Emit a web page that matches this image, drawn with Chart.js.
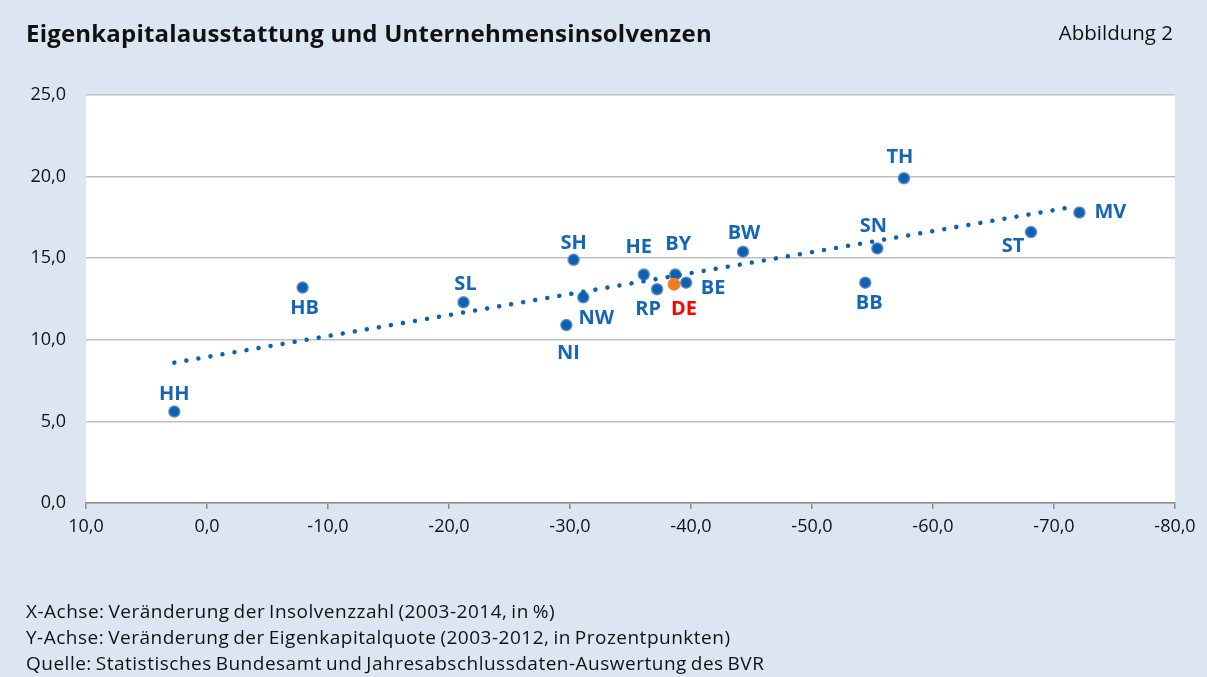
<!DOCTYPE html>
<html>
<head>
<meta charset="utf-8">
<script src="https://cdn.jsdelivr.net/npm/chart.js@4"></script>
<style>
  html, body { margin: 0; padding: 0; background: #dce6f2; }
  #wrap { position: relative; width: 1207px; height: 677px; overflow: hidden; background: #dce6f2; }
  canvas { position: absolute; left: 0; top: 0; }
  .txt { position: absolute; white-space: nowrap; color: #111; font-family: "Open Sans", sans-serif; line-height: 1; }
  #title { left: 26px; top: 21px; font-size: 24px; font-weight: bold; letter-spacing: 0.2px; }
  #fig { right: 34px; top: 22px; font-size: 20.5px; }
  .foot { left: 26px; font-size: 19px; letter-spacing: 0.5px; word-spacing: -1.5px; }
</style>
</head>
<body>
<div id="wrap">
  <canvas id="c" width="1207" height="677"></canvas>
  <div class="txt" id="title">Eigenkapitalausstattung und Unternehmensinsolvenzen</div>
  <div class="txt" id="fig">Abbildung 2</div>
  <div class="txt foot" style="top:602px">X-Achse: Veränderung der Insolvenzzahl (2003-2014, in %)</div>
  <div class="txt foot" style="top:628px">Y-Achse: Veränderung der Eigenkapitalquote (2003-2012, in Prozentpunkten)</div>
  <div class="txt foot" style="top:654px">Quelle: Statistisches Bundesamt und Jahresabschlussdaten-Auswertung des BVR</div>
</div>
<script>
// ---- data ----
const states = ['HH','HB','SL','SH','NW','NI','HE','RP','BY','BE','BW','BB','SN','TH','ST','MV'];
const insolvencyChange = [2.7, -7.9, -21.2, -30.3, -31.1, -29.7, -36.1, -37.2, -38.7, -39.6, -44.3, -54.4, -55.4, -57.6, -68.1, -72.1];
const equityChange     = [5.6, 13.2, 12.3, 14.9, 12.6, 10.9, 14.0, 13.1, 14.0, 13.5, 15.4, 13.5, 15.6, 19.9, 16.6, 17.8];
const deLabel = ['DE'];
const deInsolvency = [-38.6];
const deEquity = [13.4];
const trendX = [2.7, -71.2];
const trendY = [8.6, 18.1];
const xTicks = [10, 0, -10, -20, -30, -40, -50, -60, -70, -80];
const yTicks = [0, 5, 10, 15, 20, 25];

// ---- label placement (pixel offsets from each point) ----
const labelOffset = {
  HH:[0,-17], HB:[2,21], SL:[2,-18], SH:[0,-17], NW:[13,21], NI:[2,28],
  HE:[-5,-27], RP:[-9,20], BY:[3,-30], BE:[27,6], BW:[1,-18], BB:[4,21],
  SN:[-4,-22], TH:[-4,-21], ST:[-18,14], MV:[31,0], DE:[10,25]
};

const BLUE = '#0c61b1';
const LABEL_BLUE = '#1666b8';
const fmt = v => v.toFixed(1).replace('.', ',');

const bgPlugin = {
  id: 'bg',
  beforeDraw(chart) {
    const {ctx, chartArea: a} = chart;
    ctx.save();
    ctx.fillStyle = '#ffffff';
    ctx.fillRect(a.left, a.top, a.right - a.left, a.bottom - a.top);
    ctx.restore();
  }
};

const labelPlugin = {
  id: 'pointLabels',
  afterDatasetsDraw(chart) {
    const ctx = chart.ctx;
    ctx.save();
    ctx.font = 'bold 20px "Open Sans", sans-serif';
    ctx.textAlign = 'center';
    ctx.textBaseline = 'middle';
    const draw = (dsIndex, names, color) => {
      const meta = chart.getDatasetMeta(dsIndex);
      meta.data.forEach((pt, i) => {
        const off = labelOffset[names[i]] || [0, -18];
        ctx.fillStyle = color;
        ctx.fillText(names[i], pt.x + off[0], pt.y + off[1]);
      });
    };
    draw(1, states, LABEL_BLUE);
    draw(2, deLabel, '#ff0000');
    ctx.restore();
  }
};

new Chart(document.getElementById('c'), {
  type: 'scatter',
  data: {
    datasets: [
      {
        label: 'Trend',
        type: 'line',
        data: trendX.map((x, i) => ({x, y: trendY[i]})),
        showLine: true,
        borderColor: BLUE,
        borderWidth: 4.5,
        borderDash: [0.01, 12.2],
        borderCapStyle: 'round',
        pointRadius: 0,
        fill: false,
        order: 0
      },
      {
        label: 'Länder',
        data: insolvencyChange.map((x, i) => ({x, y: equityChange[i]})),
        backgroundColor: BLUE,
        borderColor: 'rgba(90,135,200,0.9)',
        borderWidth: 1.5,
        pointRadius: 5.5,
        order: 2
      },
      {
        label: 'DE',
        data: deInsolvency.map((x, i) => ({x, y: deEquity[i]})),
        backgroundColor: '#f47b20',
        borderColor: '#f58a3a',
        borderWidth: 1,
        pointRadius: 6,
        order: 1
      }
    ]
  },
  options: {
    responsive: false,
    animation: false,
    layout: { padding: { top: 95, right: 32, bottom: 124, left: 0 } },
    plugins: { legend: { display: false }, tooltip: { enabled: false } },
    scales: {
      x: {
        type: 'linear',
        reverse: true,
        min: -80, max: 10,
        afterFit: s => { s.height = 50; },
        afterBuildTicks: s => { s.ticks = xTicks.map(v => ({value: v})); },
        grid: { drawOnChartArea: false, drawTicks: true, tickLength: 6, color: '#8c8c8c', lineWidth: 1.5 },
        border: { display: true, color: '#8c8c8c', width: 1.5 },
        ticks: { color: '#111', padding: 7, maxRotation: 0, font: { family: '"Open Sans", sans-serif', size: 18 }, callback: v => fmt(v) }
      },
      y: {
        type: 'linear',
        min: 0, max: 25,
        afterFit: s => { s.width = 86; },
        afterBuildTicks: s => { s.ticks = yTicks.map(v => ({value: v})); },
        grid: { drawTicks: false, color: '#bfbfbf', lineWidth: 1.5 },
        border: { display: false },
        ticks: { color: '#111', padding: 20, font: { family: '"Open Sans", sans-serif', size: 18 }, callback: v => fmt(v) }
      }
    }
  },
  plugins: [bgPlugin, labelPlugin]
});
</script>
</body>
</html>
